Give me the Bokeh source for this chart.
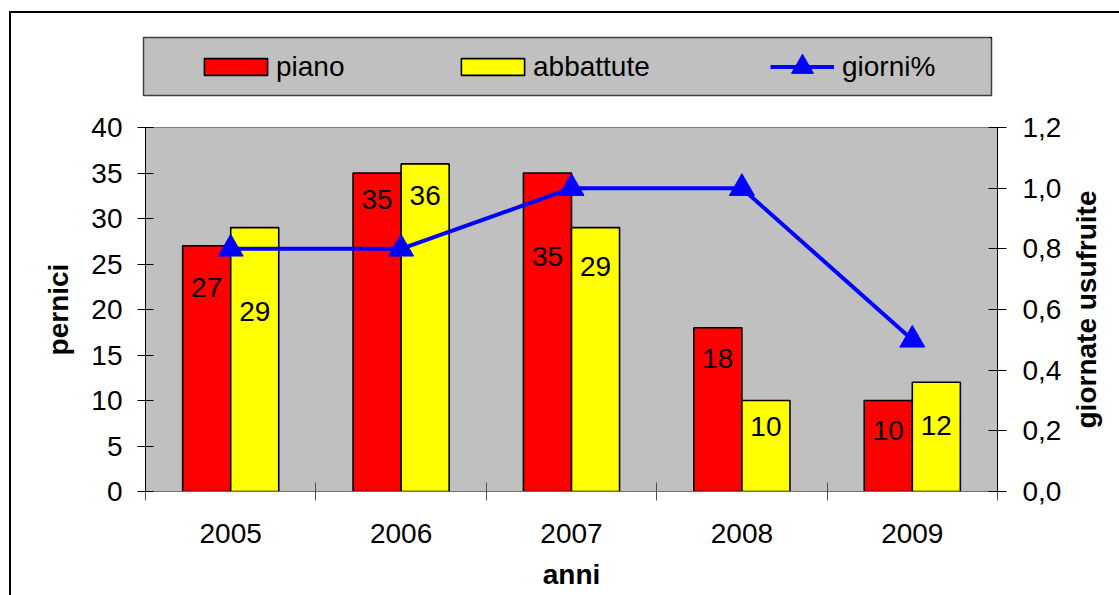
from bokeh.plotting import figure
from bokeh.layouts import column, row
from bokeh.models import (Range1d, LinearAxis, FixedTicker, CustomJSTickFormatter,
                          ColumnDataSource, Legend, LegendItem)
from bokeh.core.properties import value
from bokeh.embed import file_html
from bokeh.resources import INLINE

# ---- data ----
years = ["2005", "2006", "2007", "2008", "2009"]
piano = [27, 35, 35, 18, 10]
abbattute = [29, 36, 29, 10, 12]
giorni = [0.8, 0.8, 1.0, 1.0, 0.5]
left_ticks = [0, 5, 10, 15, 20, 25, 30, 35, 40]
right_ticks = [0.0, 0.2, 0.4, 0.6, 0.8, 1.0, 1.2]

# label placement (pixels below bar top)
piano_label_off = [42, 26.5, 83.5, 31, 30]
abb_label_off = [84, 31.6, 39, 25.5, 43]

FONT = "Liberation Sans"
FS = "28px"
RED, YELLOW, BLUE, GRAY = "#FF0000", "#FFFF00", "#0000FF", "#C0C0C0"

# page layout (px): outer frame line at x=10,y=12 ; content starts at (11,13)
OX, OY = 11, 13
CW = 1119 - OX
LEG_H = 100 - OY           # legend strip height
MAIN_H = 595 - 100         # main chart height

bw = 0.282
centers = [i + 0.5 for i in range(len(years))]
src = ColumnDataSource(dict(
    xr=[c - bw / 2 for c in centers], xy=[c + bw / 2 for c in centers], xc=centers,
    piano=piano, abb=abbattute, giorni=giorni,
    tp=[str(v) for v in piano], ta=[str(v) for v in abbattute],
    op=piano_label_off, oa=abb_label_off))

# ---------------- legend strip ----------------
lf = figure(width=CW, height=LEG_H, output_backend="svg", toolbar_location=None,
            x_range=Range1d(-10, -9), y_range=Range1d(-10, -9),
            x_axis_location=None, y_axis_location=None,
            min_border_left=143 - OX, min_border_right=CW - (991 - OX),
            min_border_top=37 - OY, min_border_bottom=LEG_H - (95 - OY),
            background_fill_color=GRAY, border_fill_color="white")
lf.grid.visible = False
lf.outline_line_color = "#404040"
lf.outline_line_width = 1.5

lr_piano = lf.vbar(x="xr", top="piano", width=bw, source=src,
                   fill_color=RED, line_color="black", line_width=1.6)
lr_abb = lf.vbar(x="xy", top="abb", width=bw, source=src,
                 fill_color=YELLOW, line_color="black", line_width=1.6)
lr_line = lf.line(x="xc", y="giorni", source=src, line_color=BLUE, line_width=4)
lr_mark = lf.scatter(x="xc", y="giorni", source=src, marker="triangle", size=22,
                     fill_color=BLUE, line_color=BLUE)

def mk_legend(label, renderers, vx, vy, gw, gh, standoff):
    lg = Legend(items=[LegendItem(label=label, renderers=renderers)],
                location=(vx, vy), orientation="horizontal",
                padding=0, margin=0, spacing=0,
                glyph_width=gw, glyph_height=gh, label_standoff=standoff,
                border_line_color=None, background_fill_alpha=0,
                label_text_font=FONT, label_text_font_size=FS, label_text_color="black")
    lf.add_layout(lg, "center")

mk_legend("piano", [lr_piano], 53, 12.2, 79, 21, 1)
mk_legend("abbattute", [lr_abb], 310, 12.2, 79, 21, 1)
mk_legend("giorni%", [lr_line, lr_mark], 627, 1, 64, 55, 8)

# ---------------- main chart ----------------
PW = (997 - OX) + 70
RW = CW - PW
FL, FR, FT, FB = 145 - OX, 997 - OX, 127 - 100, 491 - 100
p = figure(width=PW, height=MAIN_H, output_backend="svg", toolbar_location=None,
           x_range=Range1d(0, len(years)), y_range=Range1d(0, 40),
           x_axis_location=None, y_axis_location=None,
           min_border_left=FL, min_border_right=PW - FR,
           min_border_top=FT, min_border_bottom=MAIN_H - FB,
           background_fill_color=GRAY, border_fill_color="white")
p.outline_line_color = "#808080"
p.outline_line_width = 1
p.grid.visible = False
p.extra_y_ranges = {"right": Range1d(0, 1.2)}

p.vbar(x="xr", top="piano", width=bw, bottom=0, source=src,
       fill_color=RED, line_color="black", line_width=1.6)
p.vbar(x="xy", top="abb", width=bw, bottom=0, source=src,
       fill_color=YELLOW, line_color="black", line_width=1.6)
p.line(x="xc", y="giorni", source=src, y_range_name="right",
       line_color=BLUE, line_width=4)
p.scatter(x="xc", y="giorni", source=src, y_range_name="right",
          marker="triangle", size=25, fill_color=BLUE, line_color=BLUE)

p.text(x="xr", y="piano", text="tp", y_offset="op", source=src,
       text_align="center", text_baseline="middle",
       text_font=value(FONT), text_font_size=FS, text_color="black")
p.text(x="xy", y="abb", text="ta", y_offset="oa", source=src,
       text_align="center", text_baseline="middle",
       text_font=value(FONT), text_font_size=FS, text_color="black")

def style_axis(ax):
    ax.major_label_text_font = FONT
    ax.major_label_text_font_size = FS
    ax.major_label_text_color = "black"
    ax.axis_label_text_font = FONT
    ax.axis_label_text_font_size = FS
    ax.axis_label_text_font_style = "bold"
    ax.axis_label_text_color = "black"

ly = LinearAxis(ticker=FixedTicker(ticks=left_ticks), axis_label="pernici")
style_axis(ly)
ly.axis_line_color = "black"
ly.major_tick_in = 8
ly.major_tick_out = 8
ly.major_tick_line_color = "black"
ly.minor_tick_line_color = None
ly.major_label_standoff = 15
ly.axis_label_standoff = 14
p.add_layout(ly, "left")

ry = LinearAxis(y_range_name="right", ticker=FixedTicker(ticks=right_ticks),
                formatter=CustomJSTickFormatter(code="return tick.toFixed(1).replace('.', ',')"))
style_axis(ry)
ry.axis_line_color = "black"
ry.major_tick_in = 9
ry.major_tick_out = 9
ry.minor_tick_line_color = None
ry.major_label_standoff = 16
p.add_layout(ry, "right")

bx = LinearAxis(ticker=FixedTicker(ticks=centers, minor_ticks=list(range(len(years) + 1))),
                axis_label="anni",
                major_label_overrides={c: y for c, y in zip(centers, years)})
style_axis(bx)
bx.axis_line_color = "#707070"
bx.major_tick_line_color = None
bx.minor_tick_in = 9
bx.minor_tick_out = 9
bx.minor_tick_line_color = "#505050"
bx.major_label_standoff = 23
bx.axis_label_standoff = 13
p.add_layout(bx, "below")

# ---------------- right-axis title strip ----------------
RFL = 1108 - (OX + PW)
rf = figure(width=RW, height=MAIN_H, output_backend="svg", toolbar_location=None,
            x_range=Range1d(0, 1), y_range=Range1d(0, 1.2),
            x_axis_location=None, y_axis_location=None,
            min_border_left=RFL, min_border_right=0,
            min_border_top=FT, min_border_bottom=MAIN_H - FB,
            border_fill_color="white", background_fill_color="white")
rf.outline_line_color = None
rf.grid.visible = False
rt = LinearAxis(ticker=FixedTicker(ticks=[]), axis_label="giornate usufruite")
style_axis(rt)
rt.axis_line_color = None
rt.major_tick_in = 0
rt.major_tick_out = 0
rt.minor_tick_in = 0
rt.minor_tick_out = 0
rt.major_label_standoff = 0
rt.axis_label_standoff = 9
rf.add_layout(rt, "left")

layout = column(lf, row(p, rf, spacing=0), spacing=0,
                styles={"margin-left": "9px", "margin-top": "11px",
                        "border-left": "2px solid black", "border-top": "2px solid black"})

open("out.html", "w").write(file_html(layout, INLINE))
